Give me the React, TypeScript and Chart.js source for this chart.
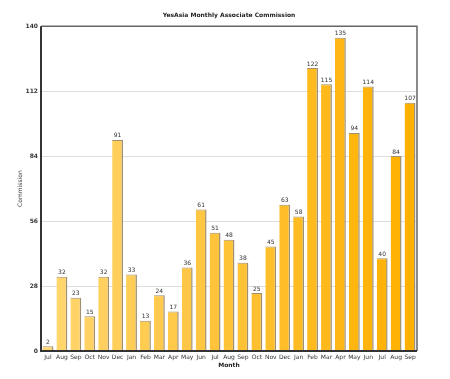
import React, { useEffect, useRef } from "react";
import { Chart, registerables } from "chart.js";

Chart.register(...registerables);

const months = ["Jul","Aug","Sep","Oct","Nov","Dec","Jan","Feb","Mar","Apr","May","Jun","Jul","Aug","Sep","Oct","Nov","Dec","Jan","Feb","Mar","Apr","May","Jun","Jul","Aug","Sep"];
const commission = [2,32,23,15,32,91,33,13,24,17,36,61,51,48,38,25,45,63,58,122,115,135,94,114,40,84,107];
const yTicks = [0, 28, 56, 84, 112, 140];

function barColor(i: number, n: number) {
  const t = n > 1 ? i / (n - 1) : 0;
  const g = Math.round(214 + (176 - 214) * t);
  const b = Math.round(112 + (0 - 112) * t);
  return `rgb(255,${g},${b})`;
}

const valueLabels = {
  id: "valueLabels",
  afterDatasetsDraw(chart: any) {
    const ctx = chart.ctx;
    const meta = chart.getDatasetMeta(0);
    ctx.save();
    ctx.font = "6px 'DejaVu Sans'";
    ctx.fillStyle = "#333";
    ctx.textAlign = "center";
    ctx.textBaseline = "bottom";
    meta.data.forEach((el: any, i: number) => {
      ctx.fillText(String(commission[i]), el.x, el.y - 1);
    });
    ctx.restore();
  },
};

const frame = {
  id: "frame",
  afterDraw(chart: any) {
    const { ctx, chartArea: a } = chart;
    ctx.save();
    ctx.strokeStyle = "#666";
    ctx.lineWidth = 1.5;
    ctx.beginPath();
    ctx.moveTo(a.left, a.top);
    ctx.lineTo(a.right, a.top);
    ctx.lineTo(a.right, a.bottom);
    ctx.stroke();
    ctx.strokeStyle = "#333";
    ctx.lineWidth = 2;
    ctx.beginPath();
    ctx.moveTo(a.left, a.top);
    ctx.lineTo(a.left, a.bottom);
    ctx.lineTo(a.right, a.bottom);
    ctx.stroke();
    ctx.restore();
  },
};

export default function App() {
  const ref = useRef<HTMLCanvasElement>(null);
  useEffect(() => {
    document.body.style.margin = "0";
    const n = commission.length;
    const chart = new Chart(ref.current!, {
      type: "bar",
      data: {
        labels: months,
        datasets: [
          {
            data: commission,
            backgroundColor: commission.map((_, i) => barColor(i, n)),
            borderColor: "#a09070",
            borderWidth: { top: 1, right: 1.5, left: 0, bottom: 0 } as any,
            borderSkipped: false,
            barPercentage: 0.78,
            categoryPercentage: 1,
          },
        ],
      },
      options: {
        animation: false,
        responsive: false,
        maintainAspectRatio: false,
        layout: { padding: { left: 17, right: 33, top: 0, bottom: 10 } },
        plugins: {
          legend: { display: false },
          tooltip: { enabled: false },
          title: {
            display: true,
            fullSize: false,
            text: "YesAsia Monthly Associate Commission",
            font: { family: "'DejaVu Sans'", size: 6, weight: "bold" },
            color: "#222",
            padding: { top: 12, bottom: 7 },
          },
        },
        scales: {
          x: {
            grid: { display: false, drawTicks: false },
            border: { display: false },
            ticks: {
              font: { family: "'DejaVu Sans'", size: 6 },
              color: "#333",
              padding: 3,
              maxRotation: 0,
              autoSkip: false,
            },
            title: {
              display: true,
              text: "Month",
              font: { family: "'DejaVu Sans'", size: 6, weight: "bold" },
              color: "#222",
              padding: { top: 0, bottom: 0 },
            },
            afterFit: (s: any) => { s.height = 18; },
          },
          y: {
            min: 0,
            max: 140,
            afterBuildTicks: (s: any) => { s.ticks = yTicks.map((v) => ({ value: v })); },
            grid: { color: "#dddddd", drawTicks: false },
            border: { display: false },
            ticks: {
              font: { family: "'DejaVu Sans'", size: 6, weight: "bold" },
              color: "#333",
              padding: 3,
            },
            title: {
              display: true,
              text: "Commission",
              font: { family: "'DejaVu Sans'", size: 6 },
              color: "#333",
              padding: { top: 0, bottom: 0 },
            },
            afterFit: (s: any) => { s.width = 24; },
          },
        },
      },
      plugins: [valueLabels, frame],
    });
    return () => chart.destroy();
  }, []);
  return (
    <div style={{ width: 450, height: 379, background: "#fff" }}>
      <canvas ref={ref} width={450} height={379} />
    </div>
  );
}
